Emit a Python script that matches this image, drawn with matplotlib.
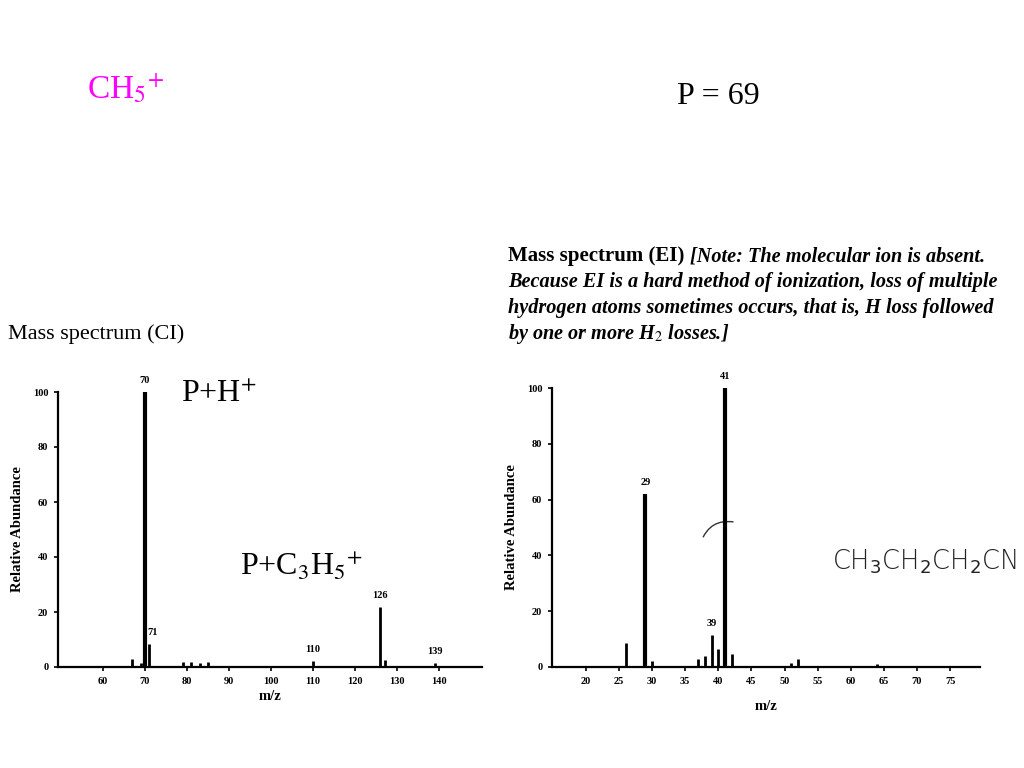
import matplotlib
matplotlib.use("Agg")
import matplotlib.pyplot as plt
from matplotlib.path import Path
from matplotlib.patches import PathPatch

# ---- data ----
ci_mz = [67, 69, 70, 71, 79, 81, 83, 85, 89, 110, 126, 127, 139]
ci_ab = [3.0, 1.5, 100, 8.5, 2.0, 2.0, 1.5, 2.0, 0.5, 2.2, 22, 2.5, 1.5]
ci_labeled = [70, 71, 110, 126, 139]
ci_xticks = [60, 70, 80, 90, 100, 110, 120, 130, 140]

ei_mz = [26, 29, 30, 37, 38, 39, 40, 41, 42, 51, 52, 64]
ei_ab = [8.5, 62, 2.0, 3.0, 4.0, 11.5, 6.5, 100, 4.5, 1.5, 3.0, 1.0]
ei_labeled = [29, 39, 41]
ei_xticks = [20, 25, 30, 35, 40, 45, 50, 55, 60, 65, 70, 75]

yticks = [0, 20, 40, 60, 80, 100]

SERIF = "Liberation Serif"

fig = plt.figure(figsize=(10.24, 7.68), dpi=100)
fig.patch.set_facecolor("white")


def style_axes(ax, xticks):
    for s in ("top", "right"):
        ax.spines[s].set_visible(False)
    ax.spines["left"].set_linewidth(1.6)
    ax.spines["bottom"].set_linewidth(1.6)
    ax.set_yticks(yticks)
    ax.set_xticks(xticks)
    ax.tick_params(axis="both", direction="out", length=3, width=1.2,
                   labelsize=7.5, pad=4)
    for lab in ax.get_xticklabels() + ax.get_yticklabels():
        lab.set_fontfamily(SERIF)
        lab.set_fontweight("bold")
    ax.set_ylabel("Relative Abundance", fontfamily=SERIF, fontweight="bold",
                  fontsize=10.5)
    ax.set_xlabel("m/z", fontfamily=SERIF, fontweight="bold", fontsize=10.5)


# ---- CI axes ----
ax1 = fig.add_axes([58 / 1024, 101 / 768, 424 / 1024, 275 / 768])
ax1.vlines(ci_mz, 0, ci_ab, colors="black",
           linewidths=[3 if v >= 50 else 2 for v in ci_ab])
ax1.set_xlim(49.3, 150.2)
ax1.set_ylim(0, 100)
style_axes(ax1, ci_xticks)
ax1.yaxis.labelpad = 6
ax1.xaxis.labelpad = 3
for m, a in zip(ci_mz, ci_ab):
    if m in ci_labeled:
        dx = 0.9 if m == 71 else 0
        ax1.text(m + dx, a + 2.5, str(m), ha="center", va="bottom",
                 fontsize=7.5, fontfamily=SERIF, fontweight="bold",
                 clip_on=False)

# ---- EI axes ----
ax2 = fig.add_axes([552 / 1024, 101 / 768, 428 / 1024, 279 / 768])
ax2.vlines(ei_mz, 0, ei_ab, colors="black",
           linewidths=[3 if v >= 50 else 2 for v in ei_ab])
ax2.set_xlim(14.9, 79.5)
ax2.set_ylim(0, 100)
style_axes(ax2, ei_xticks)
ax2.yaxis.labelpad = 6
ax2.xaxis.labelpad = 10
for m, a in zip(ei_mz, ei_ab):
    if m in ei_labeled:
        ax2.text(m, a + 2.5, str(m), ha="center", va="bottom",
                 fontsize=7.5, fontfamily=SERIF, fontweight="bold",
                 clip_on=False)

# cleavage mark near m/z 41
verts = [(37.7, 46.5), (39.0, 52.5), (41.0, 52.3), (42.3, 52.0)]
codes = [Path.MOVETO, Path.CURVE4, Path.CURVE4, Path.CURVE4]
ax2.add_patch(PathPatch(Path(verts, codes), fill=False, lw=1.0,
                        edgecolor="#333333", clip_on=False))

# ---- texts ----
fig.text(87 / 1024, 1 - 88 / 768, r"CH$_5$$^{+}$", color="#ff00ff",
         fontsize=24, fontfamily=SERIF, va="center", ha="left",
         math_fontfamily="stix")
fig.text(677 / 1024, 1 - 96 / 768, "P = 69", color="black", fontsize=23,
         fontfamily=SERIF, va="center", ha="left")
fig.text(181 / 1024, 1 - 395 / 768, r"P+H$^{+}$", color="black", fontsize=23,
         fontfamily=SERIF, va="center", ha="left", math_fontfamily="stix")
fig.text(240 / 1024, 1 - 566 / 768, r"P+C$_3$H$_5$$^{+}$", color="black",
         fontsize=23, fontfamily=SERIF, va="center", ha="left",
         math_fontfamily="stix")

fig.text(8 / 1024, 1 - 334 / 768, "Mass spectrum (CI)", fontsize=16,
         fontfamily=SERIF, va="center", ha="left")

ei_lines = [
    ("Mass spectrum (EI) ", "[Note: The molecular ion is absent."),
    ("", "Because EI is a hard method of ionization, loss of multiple"),
    ("", "hydrogen atoms sometimes occurs, that is, H loss followed"),
    ("", r"by one or more H$_2$ losses.]"),
]
ys = [256, 282, 308, 334]
t = fig.text(508 / 1024, 1 - ys[0] / 768, ei_lines[0][0], fontsize=15,
             fontfamily=SERIF, fontweight="bold", va="center", ha="left")
fig.canvas.draw()
bb = t.get_window_extent()
fig.text(bb.x1 / 1024, 1 - ys[0] / 768, ei_lines[0][1], fontsize=14.6,
         fontfamily=SERIF, fontweight="bold", fontstyle="italic",
         va="center", ha="left")
for (a, b), y in zip(ei_lines[1:], ys[1:]):
    fig.text(508 / 1024, 1 - y / 768, b, fontsize=14.6, fontfamily=SERIF,
             fontweight="bold", fontstyle="italic", va="center", ha="left",
             math_fontfamily="stix")

fig.text(832 / 1024, 1 - 562 / 768, r"CH$_3$CH$_2$CH$_2$CN", fontsize=18.5,
         fontfamily="DejaVu Sans", color="#222222", fontweight="light",
         va="center", ha="left")

fig.savefig("out.png", dpi=100, facecolor="white")
